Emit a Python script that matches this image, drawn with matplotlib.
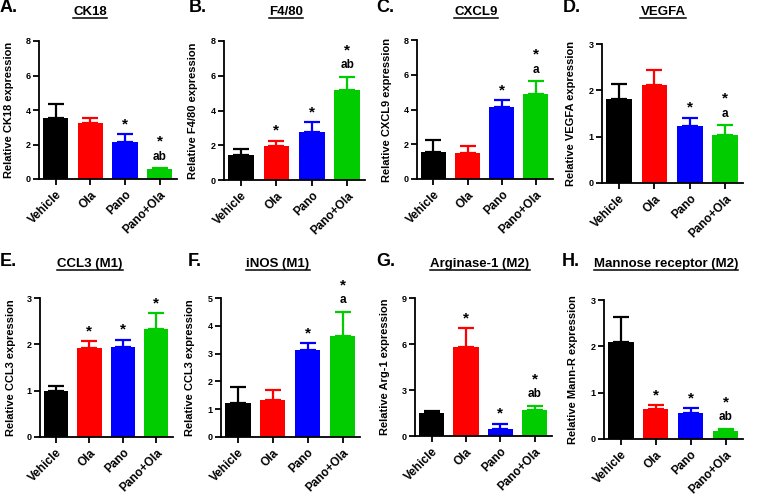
import matplotlib
matplotlib.use('Agg')
import matplotlib.pyplot as plt
from matplotlib.lines import Line2D

plt.rcParams['font.family'] = ['Liberation Sans', 'DejaVu Sans']
plt.rcParams['font.weight'] = 'bold'

# Data
groups = ['Vehicle', 'Ola', 'Pano', 'Pano+Ola']
bar_colors = ['#000000', '#FF0000', '#0000FF', '#00CC00']

letters = ['A.', 'B.', 'C.', 'D.', 'E.', 'F.', 'G.', 'H.']
titles = ['CK18', 'F4/80', 'CXCL9', 'VEGFA',
          'CCL3 (M1)', 'iNOS (M1)', 'Arginase-1 (M2)', 'Mannose receptor (M2)']
ylabels = ['Relative CK18 expression', 'Relative F4/80 expression',
           'Relative CXCL9 expression', 'Relative VEGFA expression',
           'Relative CCL3 expression', 'Relative CCL3 expression',
           'Relative Arg-1 expression', 'Relative Mann-R expression']

means = [
    [3.55, 3.26, 2.14, 0.56],
    [1.46, 1.96, 2.76, 5.16],
    [1.56, 1.52, 4.15, 4.87],
    [1.81, 2.11, 1.22, 1.04],
    [0.99, 1.92, 1.94, 2.34],
    [1.24, 1.32, 3.13, 3.63],
    [1.48, 5.80, 0.48, 1.70],
    [2.09, 0.64, 0.57, 0.17],
]
errors = [
    [0.77, 0.30, 0.44, 0.06],
    [0.32, 0.30, 0.56, 0.77],
    [0.67, 0.36, 0.41, 0.76],
    [0.33, 0.33, 0.19, 0.21],
    [0.10, 0.15, 0.16, 0.34],
    [0.57, 0.37, 0.26, 0.88],
    [0.17, 1.22, 0.32, 0.26],
    [0.55, 0.09, 0.09, 0.05],
]
ymax = [8, 8, 8, 3, 3, 5, 9, 3]
ytick_step = [2, 2, 2, 1, 1, 1, 3, 1]

stars = [
    ['', '', '*', '*'],
    ['', '*', '*', '*'],
    ['', '', '*', '*'],
    ['', '', '*', '*'],
    ['', '*', '*', '*'],
    ['', '', '*', '*'],
    ['', '*', '*', '*'],
    ['', '*', '*', '*'],
]
sig_letters = [
    ['', '', '', 'ab'],
    ['', '', '', 'ab'],
    ['', '', '', 'a'],
    ['', '', '', 'a'],
    ['', '', '', ''],
    ['', '', '', 'a'],
    ['', '', '', 'ab'],
    ['', '', '', 'ab'],
]

# pixel boxes (left, right, top, bottom) of each axes in the 759x499 picture
W, H = 759, 499
boxes = [(39, 177, 41, 179), (224, 365, 41, 180), (417, 553, 40, 179), (602, 743, 44, 183),
         (40, 173, 298, 437), (221, 360, 298, 437), (415, 552, 298, 436), (604, 743, 300, 439)]
letter_pos = [(0, 8), (189, 8), (376, 8), (563, 8), (0, 262), (188, 262), (376, 262), (562, 262)]
title_pos = [(90, 12), (286, 12), (476, 12), (663, 12), (90, 264), (278, 264), (480, 264), (666, 264)]

fig = plt.figure(figsize=(W / 100, H / 100), dpi=100)

title_texts = []
for i in range(8):
    l, r, t, b = boxes[i]
    ax = fig.add_axes([l / W, 1 - b / H, (r - l) / W, (b - t) / H])
    x = range(len(groups))
    ax.bar(x, means[i], width=0.73, color=bar_colors, zorder=2)
    # upper error bars only, drawn in the bar colour
    for j in x:
        ax.errorbar(j, means[i][j], yerr=[[0], [errors[i][j]]], fmt='none',
                    ecolor=bar_colors[j], elinewidth=1.6, capsize=5.5, capthick=1.6, zorder=1)
        top = means[i][j] + errors[i][j]
        if stars[i][j]:
            off = 14 if sig_letters[i][j] else 2
            ax.annotate(stars[i][j], (j, top), xytext=(0, off), textcoords='offset points',
                        ha='center', va='bottom', fontsize=11, fontweight='bold', annotation_clip=False)
        if sig_letters[i][j]:
            ax.annotate(sig_letters[i][j], (j, top), xytext=(0, 4), textcoords='offset points',
                        ha='center', va='bottom', fontsize=8.5, fontweight='bold', annotation_clip=False)

    ax.set_xlim(-0.48, 3.5)
    ax.set_ylim(0, ymax[i])
    ax.set_yticks(range(0, ymax[i] + 1, ytick_step[i]))
    ax.set_xticks(list(x))
    ax.set_xticklabels(groups, rotation=45, ha='right', rotation_mode='anchor',
                       fontsize=8.5, fontweight='bold')
    ax.tick_params(axis='both', direction='out', length=4, width=1.3, labelsize=6.5, pad=2)
    ax.tick_params(axis='x', pad=3, labelsize=8.5)
    for lab in ax.get_yticklabels():
        lab.set_fontweight('bold')
    for s in ['top', 'right']:
        ax.spines[s].set_visible(False)
    for s in ['left', 'bottom']:
        ax.spines[s].set_linewidth(1.3)
    ax.set_ylabel(ylabels[i], fontsize=8, fontweight='bold', va='center')
    ax.yaxis.set_label_coords(-0.22, 0.5)

    fig.text(letter_pos[i][0] / W, 1 - letter_pos[i][1] / H, letters[i],
             fontsize=13, fontweight='bold', ha='left', va='center')
    tt = fig.text(title_pos[i][0] / W, 1 - title_pos[i][1] / H, titles[i],
                  fontsize=9.5, fontweight='bold', ha='center', va='center')
    title_texts.append(tt)

# underline titles
fig.canvas.draw()
renderer = fig.canvas.get_renderer()
for tt in title_texts:
    bb = tt.get_window_extent(renderer)
    y = (bb.y0 + 0.5) / H
    fig.add_artist(Line2D([bb.x0 / W, bb.x1 / W], [y, y], color='black', lw=1.1,
                          transform=fig.transFigure))

fig.savefig('out.png', dpi=100)
